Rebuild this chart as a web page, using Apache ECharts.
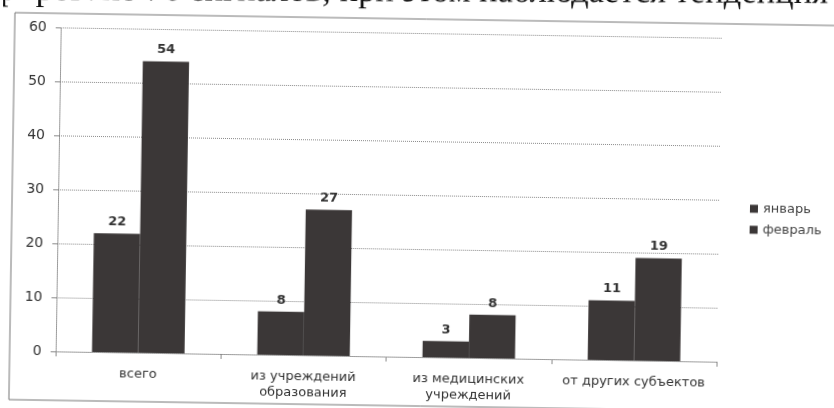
<!DOCTYPE html>
<html>
<head>
<meta charset="utf-8">
<script src="https://cdn.jsdelivr.net/npm/echarts@6/dist/echarts.min.js"></script>
<style>
  html, body { margin: 0; padding: 0; background: #fff; overflow: hidden; }
  body { position: relative; width: 834px; height: 408px; }
  /* the source is a slightly tilted scan; the canvas overhangs the page top and bottom by 20px */
  #chart {
    position: absolute; left: 0; top: -20px;
    width: 834px; height: 448px;
    transform: rotate(0.9deg); transform-origin: 417px 224px;
  }
</style>
</head>
<body>
<div id="chart"></div>
<script>
// categories and values
var categories = ['всего', 'из учреждений\nобразования', 'из медицинских\nучреждений', 'от других субъектов'];
var janValues = [22, 8, 3, 11];
var febValues = [54, 27, 8, 19];
var seriesNames = ['январь', 'февраль'];
var headerText = 'зарегистрировано 76 сигналов, при этом наблюдается тенденция';

var barColor = '#3b3737';
var gridColor = '#8a8a8a';
var font = 'DejaVu Sans';
var off = 20; // overhang of the canvas above the page

var chart = echarts.init(document.getElementById('chart'));

var valueLabel = {
  show: true,
  position: 'top',
  distance: 5,
  fontFamily: font,
  fontSize: 13,
  fontWeight: 'bold',
  color: '#333'
};

chart.setOption({
  animation: false,
  graphic: [{
    // line of the document text above the chart, less tilted than the chart
    type: 'text',
    x: 825,
    y: off + 5,
    rotation: 0.0115,
    style: {
      text: headerText,
      align: 'right',
      verticalAlign: 'bottom',
      fontFamily: 'Liberation Serif',
      fontSize: 34.6,
      fill: '#111'
    }
  }, {
    type: 'rect',
    shape: { x: 12, y: off + 19, width: 840, height: 387 },
    style: { fill: 'none', stroke: '#777', lineWidth: 1 },
    z: -1
  }],
  legend: {
    orient: 'vertical',
    left: 745,
    top: off + 192,
    itemWidth: 8,
    itemHeight: 8,
    itemGap: 8,
    icon: 'rect',
    textStyle: { fontFamily: font, fontSize: 13, color: '#444' },
    data: seriesNames
  },
  grid: { left: 58, top: off + 33, right: 115, bottom: off + 51 },
  xAxis: {
    type: 'category',
    data: categories,
    axisLine: { lineStyle: { color: gridColor, type: 'dotted' } },
    axisTick: { show: true, length: 5, lineStyle: { color: gridColor } },
    axisLabel: {
      interval: 0,
      margin: 14,
      fontFamily: font,
      fontSize: 13,
      lineHeight: 16,
      color: '#333'
    }
  },
  yAxis: {
    type: 'value',
    min: 0,
    max: 60,
    interval: 10,
    axisLine: { show: true, lineStyle: { color: gridColor, type: 'dotted' } },
    axisTick: { show: true, length: 5, lineStyle: { color: gridColor } },
    splitLine: { lineStyle: { color: gridColor, type: 'dotted' } },
    axisLabel: {
      margin: 14,
      fontFamily: font,
      fontSize: 14,
      color: '#333'
    }
  },
  series: [{
    name: seriesNames[0],
    type: 'bar',
    data: janValues,
    barGap: '0%',
    barCategoryGap: '44%',
    itemStyle: { color: barColor },
    label: valueLabel
  }, {
    name: seriesNames[1],
    type: 'bar',
    data: febValues,
    itemStyle: { color: barColor },
    label: valueLabel
  }]
});
</script>
</body>
</html>
